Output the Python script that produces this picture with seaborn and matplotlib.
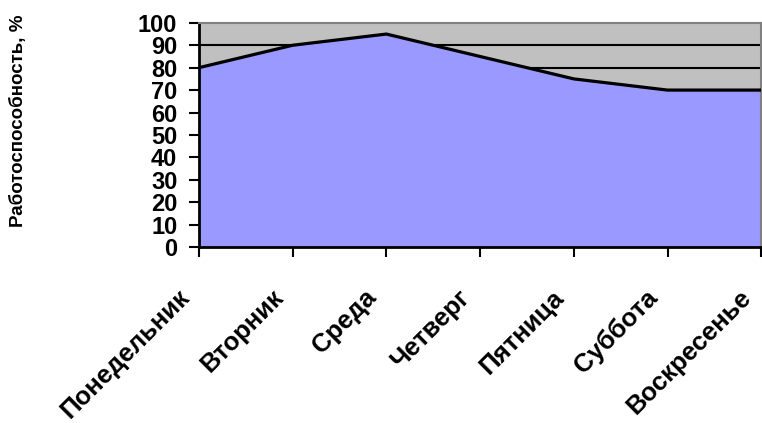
import numpy as np
import pandas as pd
import seaborn as sns
import matplotlib.pyplot as plt
import matplotlib.transforms as mtransforms

days = ['Понедельник', 'Вторник', 'Среда', 'Четверг', 'Пятница', 'Суббота', 'Воскресенье']
capacity = [80, 90, 95, 85, 75, 70, 70]
y_ticks = [0, 10, 20, 30, 40, 50, 60, 70, 80, 90, 100]

df = pd.DataFrame({'pos': np.arange(len(days)), 'day': days, 'value': capacity})

sns.set_style("white")
plt.rcParams['font.family'] = ['Liberation Sans', 'DejaVu Sans']
plt.rcParams['font.weight'] = 'bold'
plt.rcParams['text.color'] = 'black'
plt.rcParams['axes.labelcolor'] = 'black'
plt.rcParams['xtick.color'] = 'black'
plt.rcParams['ytick.color'] = 'black'

fig = plt.figure(figsize=(7.62, 4.23), dpi=100)
ax = fig.add_axes([0.261, 0.416, 0.738, 0.530])
ax.set_facecolor('#C0C0C0')

# gridlines under the area
for y in y_ticks[1:-1]:
  ax.axhline(y, color='black', lw=1.5, zorder=1)

ax.fill_between(df['pos'], 0, df['value'], color='#9999FF', zorder=2, linewidth=0)
sns.lineplot(data=df, x='pos', y='value', ax=ax, color='black', lw=2.3, zorder=3)

ax.set_xlim(0, len(days) - 1)
ax.set_ylim(0, 100)
ax.set_yticks(y_ticks)
ax.set_xticks(df['pos'])
ax.set_xticklabels(days, rotation=45, ha='right', rotation_mode='anchor',
                   fontsize=18.5, fontweight='bold')
ax.set_yticklabels([str(v) for v in y_ticks], fontsize=17, fontweight='bold')
ax.tick_params(axis='both', direction='out', length=7.5, width=1.5, color='black',
               labelcolor='black', left=True, bottom=True)
ax.tick_params(axis='x', pad=20)
ax.tick_params(axis='y', pad=8)

# shift the rotated labels to the left, like Excel does
shift = mtransforms.ScaledTranslation(-0.22, 0, fig.dpi_scale_trans)
for lbl in ax.get_xticklabels():
  lbl.set_transform(lbl.get_transform() + shift)

for side in ['left', 'bottom']:
  ax.spines[side].set_color('black')
  ax.spines[side].set_linewidth(2)
for side in ['top', 'right']:
  ax.spines[side].set_color('#808080')
  ax.spines[side].set_linewidth(1.5)

ax.set_xlabel('')
ax.set_ylabel('Работоспособность, %', fontsize=13.5, fontweight='bold', color='black')
ax.yaxis.set_label_coords(-0.306, 0.565)

fig.savefig('out.png', dpi=100)
